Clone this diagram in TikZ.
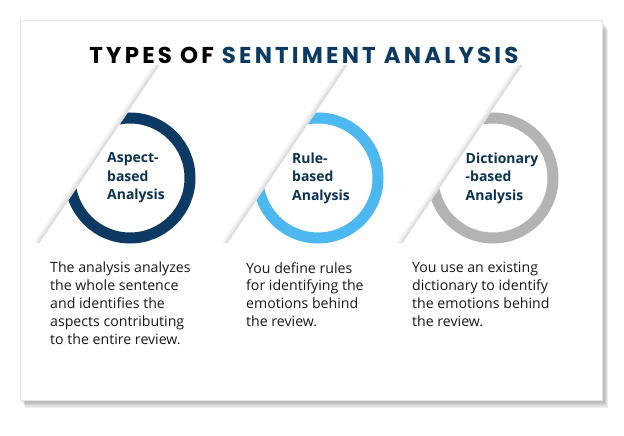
\documentclass[tikz,border=0pt]{standalone}
\usepackage{fontspec}
\setmainfont{Open Sans}
\newfontfamily\titlefont{Poppins}
\definecolor{navy}{HTML}{0D3A63}
\definecolor{skyb}{HTML}{4DB8F0}
\definecolor{greyr}{HTML}{B3B3B3}
\tikzset{body/.style={anchor=north west,align=left,font=\fontsize{14.2}{18}\selectfont,text=black!90,inner sep=0pt},
 lab/.style={align=left,font=\bfseries\fontsize{14}{18.5}\selectfont,text=navy!85!black,inner sep=0pt}}
\begin{document}
\begin{tikzpicture}[x=1bp,y=-1bp]
\useasboundingbox (0,0) rectangle (624,436);
\fill[white] (0,0) rectangle (624,436);
\foreach \i in {1,...,8}{\fill[black,opacity=0.035] (22+\i*0.4,22+\i) rectangle (604+\i*0.5,402+\i*0.8);}
\node[draw=gray!20,fill=white,minimum width=582bp,minimum height=380bp,anchor=north west,inner sep=0] (card) at (20,20) {};
\node[font=\titlefont\bfseries\fontsize{23}{26}\selectfont] (title) at (304,55) {\addfontfeature{LetterSpace=14}TYPES OF \textcolor{navy}{SENTIMENT ANALYSIS}};
\foreach \cx/\col [count=\k] in {130/navy,318/skyb,493/greyr}{
  \begin{scope}
    \clip (\cx-70,213) -- (\cx+20,80) -- (\cx+120,80) -- (\cx+120,260) -- (\cx-70,260) -- cycle;
    \draw[\col,line width=11bp] (\cx,178) circle (60);
  \end{scope}
  \foreach \o/\op in {1/0.10,2/0.08,3/0.06,4/0.045,5/0.03,6/0.02,7/0.01}{
    \draw[black,opacity=\op,line width=1.2bp] (\cx-90-\o,243) -- (\cx+30-\o,65);}
  \node[coordinate] (c\k) at (\cx,178) {};
}
\node[lab] (l1) at ([xshift=6bp]c1) {Aspect-\\based\\Analysis};
\node[lab] (l2) at ([xshift=3bp]c2) {Rule-\\based\\Analysis};
\node[lab] (l3) at ([xshift=9bp]c3) {Dictionary\\-based\\Analysis};
\node[body] (t1) at (50,262) {The analysis analyzes\\the whole sentence\\and identifies the\\aspects contributing\\to the entire review.};
\node[body] (t2) at (246,262) {You define rules\\for identifying the\\emotions behind\\the review.};
\node[body] (t3) at (412,262) {You use an existing\\dictionary to identify\\the emotions behind\\the review.};
\end{tikzpicture}
\end{document}
